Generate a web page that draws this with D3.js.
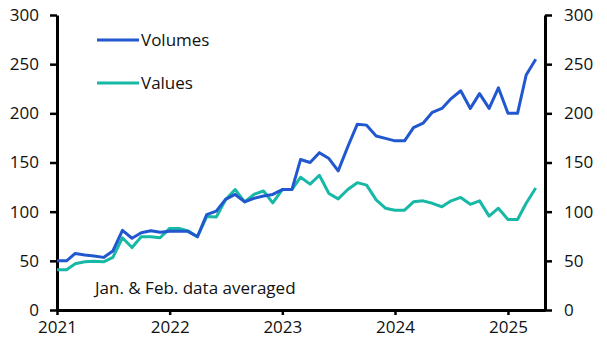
<!DOCTYPE html>
<html>
<head>
<meta charset="utf-8">
<script src="https://cdn.jsdelivr.net/npm/d3@7"></script>
<style>
  body { margin: 0; background: #fff; }
  text { font-family: "Open Sans", sans-serif; fill: #111; }
</style>
</head>
<body>
<div id="chart"></div>
<script>
// monthly, Jan 2021 - Apr 2025 (Jan & Feb averaged)
var startMonth = "2021-01";
var volumes = [
  50, 50, 57.5, 56, 55, 53.5, 60, 81, 73, 78.5, 80.5, 79,
  80, 80, 80, 74.5, 97, 100.5, 112.5, 117.5, 110, 113.5, 116, 117.5,
  122.5, 122.5, 153, 150, 160, 154, 141.5, 166, 189, 188, 177, 174.5,
  172, 172, 185.5, 190, 201, 205, 215, 223, 205, 220, 205, 226,
  200, 200, 239, 255
];
var values = [
  41, 41, 47, 49, 49.5, 49, 53.5, 73.5, 63.5, 74.5, 74.5, 73.5,
  83, 83, 80.5, 74.5, 95, 94.5, 112, 122.5, 110, 117.5, 121, 109,
  122.5, 122.5, 135, 128, 137, 118.5, 113, 122.5, 129.5, 127, 112, 103.5,
  101.5, 101.5, 110, 111, 108.5, 105, 111, 114.5, 107.5, 111, 95.5, 103.5,
  92, 92, 108.5, 124
];
var seriesNames = ["Volumes", "Values"];
var colors = ["#2157cf", "#17b8a6"];
var yTicks = [0, 50, 100, 150, 200, 250, 300];
var note = "Jan. & Feb. data averaged";

var svgWidth = 607;
var svgHeight = 358;
var margin = { top: 15, right: 62, bottom: 48, left: 57 };
var width = svgWidth - margin.left - margin.right;
var height = svgHeight - margin.top - margin.bottom;

var parse = d3.timeParse("%Y-%m");
var start = parse(startMonth);
var dates = volumes.map((d, i) => d3.timeMonth.offset(start, i));

var svg = d3.select("#chart").append("svg")
  .attr("width", svgWidth)
  .attr("height", svgHeight);

var chart = svg.append("g")
  .attr("transform", `translate(${margin.left}, ${margin.top})`);

var x = d3.scaleTime()
  .domain([start, parse("2025-05")])
  .range([0, width]);

var y = d3.scaleLinear()
  .domain([0, 300])
  .range([height, 0]);

function styleAxis(g) {
  g.select(".domain").attr("stroke", "#000").attr("stroke-width", 3);
  g.selectAll(".tick line").attr("stroke", "#000").attr("stroke-width", 2.5);
  g.selectAll(".tick text").attr("font-size", 17).attr("fill", "#111")
    .attr("font-family", "Open Sans, sans-serif");
}

chart.append("g")
  .call(d3.axisLeft(y).tickValues(yTicks).tickSize(7).tickSizeOuter(0).tickPadding(11))
  .call(styleAxis);

chart.append("g")
  .attr("transform", `translate(${width}, 0)`)
  .call(d3.axisRight(y).tickValues(yTicks).tickSize(7).tickSizeOuter(0).tickPadding(12))
  .call(styleAxis);

chart.append("g")
  .attr("transform", `translate(0, ${height})`)
  .call(d3.axisBottom(x).ticks(d3.timeYear.every(1)).tickFormat(d3.timeFormat("%Y"))
    .tickSize(5).tickSizeOuter(0).tickPadding(6))
  .call(styleAxis);

var line = d3.line()
  .x((d, i) => x(dates[i]))
  .y(d => y(d));

[values, volumes].forEach(function(s, k) {
  chart.append("path")
    .datum(s)
    .attr("fill", "none")
    .attr("stroke", colors[1 - k])
    .attr("stroke-width", 3)
    .attr("stroke-linejoin", "round")
    .attr("d", line);
});

// legend
var legend = svg.append("g");
seriesNames.forEach(function(name, i) {
  var ly = 40 + i * 43;
  legend.append("line")
    .attr("x1", 97).attr("x2", 139)
    .attr("y1", ly).attr("y2", ly)
    .attr("stroke", colors[i])
    .attr("stroke-width", 3);
  legend.append("text")
    .attr("x", 141)
    .attr("y", ly + 6)
    .attr("font-size", 17)
    .text(name);
});

svg.append("text")
  .attr("x", 95)
  .attr("y", 294)
  .attr("font-size", 17)
  .text(note);
</script>
</body>
</html>
